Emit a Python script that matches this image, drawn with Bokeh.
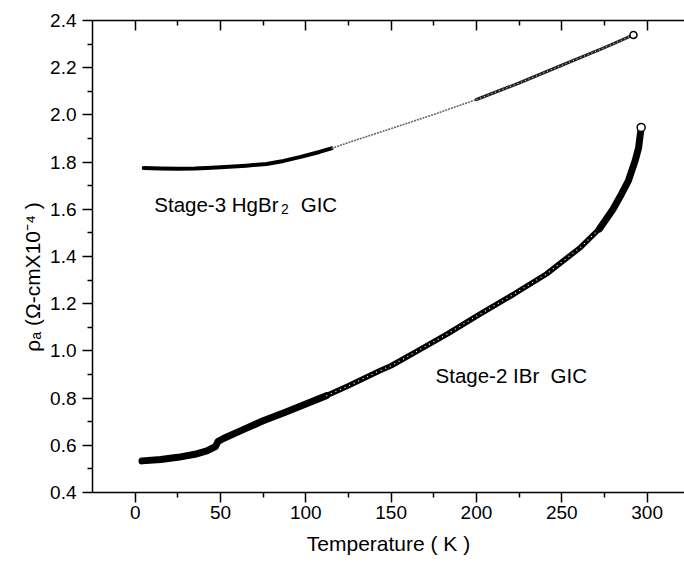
from bokeh.plotting import figure
from bokeh.models import Range1d, LinearAxis, FixedTicker, PrintfTickFormatter, Label
from bokeh.embed import file_html
from bokeh.resources import INLINE

# ---------------- data ----------------
hgbr2_T = [5, 15, 25, 35, 45, 55, 65, 77, 87, 97, 108, 115,
           130, 150, 175, 200, 225, 250, 275, 292]
hgbr2_rho = [1.775, 1.773, 1.772, 1.773, 1.776, 1.780, 1.785, 1.792, 1.805, 1.822, 1.843, 1.858,
             1.895, 1.942, 2.002, 2.065, 2.135, 2.210, 2.285, 2.339]

ibr_T = [4, 15, 25, 35, 42, 47, 48.5, 52, 62, 75, 88, 100, 112,
         125, 143, 150, 165, 183, 202, 222, 241, 261, 272,
         280, 285, 289, 293, 295, 296.5]
ibr_rho = [0.534, 0.540, 0.549, 0.562, 0.576, 0.594, 0.616, 0.630, 0.662, 0.704, 0.740, 0.775, 0.810,
           0.852, 0.915, 0.937, 0.998, 1.072, 1.156, 1.241, 1.326, 1.439, 1.517,
           1.600, 1.665, 1.720, 1.806, 1.860, 1.947]

x_ticks = [0, 50, 100, 150, 200, 250, 300]
x_minor = [25, 75, 125, 175, 225, 275]
y_ticks = [0.4, 0.6, 0.8, 1.0, 1.2, 1.4, 1.6, 1.8, 2.0, 2.2, 2.4]
y_minor = [0.5, 0.7, 0.9, 1.1, 1.3, 1.5, 1.7, 1.9, 2.1, 2.3]

x_title = "Temperature ( K )"
y_title = "\u03c1\u2090 (\u03a9-cmX10\u207b\u2074 )"

FONT = "Liberation Sans"
NB = "\u00a0"

p = figure(width=684, height=562,
           x_range=Range1d(-25, 321.9), y_range=Range1d(0.4, 2.4),
           output_backend="svg", toolbar_location=None,
           min_border_left=92, min_border_right=0, min_border_top=20, min_border_bottom=70)
p.outline_line_color = None
p.grid.visible = False

def style_axis(ax, ticks, minor, tin, tout):
    ax.ticker = FixedTicker(ticks=ticks, minor_ticks=minor)
    ax.axis_line_color = "black"
    ax.axis_line_width = 1.5
    ax.major_tick_line_width = 1.5
    ax.minor_tick_line_width = 1.5
    ax.major_tick_in = tin
    ax.major_tick_out = tout
    ax.minor_tick_in = tin // 2
    ax.minor_tick_out = tout // 2
    ax.major_label_text_font = FONT
    ax.major_label_text_font_size = "19px"
    ax.major_label_text_color = "black"
    ax.axis_label_text_font = FONT
    ax.axis_label_text_font_style = "normal"
    ax.axis_label_text_color = "black"

xa = p.xaxis[0]
style_axis(xa, x_ticks, x_minor, 0, 10)
xa.major_label_standoff = 3
xa.axis_label = x_title
xa.axis_label_text_font_size = "21px"
xa.axis_label_standoff = 10

ya = p.yaxis[0]
style_axis(ya, y_ticks, y_minor, 0, 10)
ya.major_label_standoff = 6
ya.formatter = PrintfTickFormatter(format="%.1f")
ya.axis_label = y_title + NB * 7
ya.axis_label_text_font_size = "21px"
ya.axis_label_standoff = 3

top = LinearAxis()
style_axis(top, x_ticks, x_minor, 10, 0)
top.major_label_text_color = None
top.major_label_text_font_size = "1px"
top.major_label_standoff = 0
p.add_layout(top, "above")

# ---------------- Stage-3 HgBr2 ----------------
p.line(hgbr2_T[:12], hgbr2_rho[:12], line_color="black", line_width=4,
       line_join="round", line_cap="round")
p.line(hgbr2_T[11:16], hgbr2_rho[11:16], line_color="#666666", line_width=1.6,
       line_dash="2 1")
p.line(hgbr2_T[15:], hgbr2_rho[15:], line_color="#222222", line_width=3.2,
       line_join="round", line_cap="round")
p.line(hgbr2_T[15:], hgbr2_rho[15:], line_color="white", line_width=1,
       line_dash="1 3")
p.scatter(hgbr2_T[-1:], hgbr2_rho[-1:], marker="circle", size=7,
          fill_color="white", line_color="black", line_width=1.5)

# ---------------- Stage-2 IBr ----------------
p.line(ibr_T[:13], ibr_rho[:13], line_color="black", line_width=7,
       line_join="round", line_cap="round")
p.line(ibr_T[12:23], ibr_rho[12:23], line_color="black", line_width=5.5,
       line_join="round", line_cap="round")
p.line(ibr_T[12:23], ibr_rho[12:23], line_color="white", line_width=1.2,
       line_dash="1 4")
p.line(ibr_T[22:], ibr_rho[22:], line_color="black", line_width=7,
       line_join="round", line_cap="round")
p.scatter(ibr_T[-1:], ibr_rho[-1:], marker="circle", size=8,
          fill_color="white", line_color="black", line_width=1.5)

# ---------------- annotations (inside the frame) ----------------
def lab(x, y, text, size="20.5px"):
    p.add_layout(Label(x=x, y=y, text=text, text_font=FONT,
                       text_font_size=size, text_color="black",
                       text_align="left", text_baseline="alphabetic"))

lab(11.2, 1.622, "Stage-3 HgBr")
lab(85.5, 1.601, "2", size="14px")
lab(97.0, 1.622, "GIC")

lab(176.0, 0.896, "Stage-2 IBr" + NB * 2 + "GIC")

open("out.html", "w").write(file_html(p, INLINE))
